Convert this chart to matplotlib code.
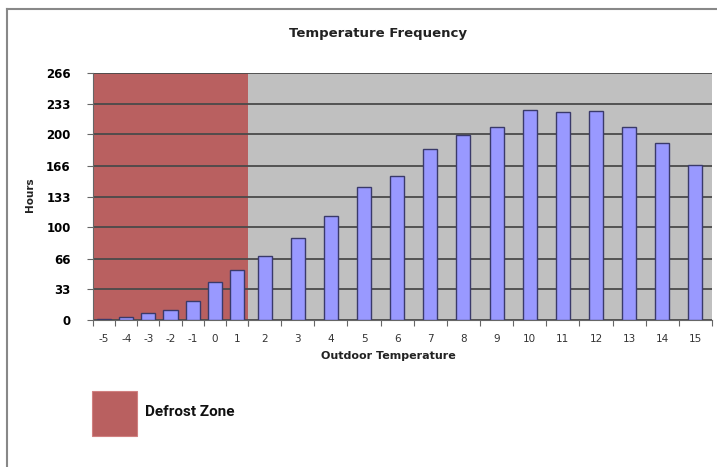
import matplotlib.pyplot as plt
from matplotlib.lines import Line2D
from matplotlib.patches import Rectangle

temps_cold = [-5, -4, -3, -2, -1, 0, 1]
hours_cold = [1, 3.5, 7.5, 10.5, 20.5, 41, 54]
temps_warm = [2, 3, 4, 5, 6, 7, 8, 9, 10, 11, 12, 13, 14, 15]
hours_warm = [69, 88, 112, 143, 155, 184, 199, 208, 226, 224, 225, 208, 191, 167]
y_ticks = [0, 33, 66, 100, 133, 166, 200, 233, 266]

W, H = 717, 467
fig = plt.figure(figsize=(W / 100, H / 100), dpi=100)


def fx(px):
    return px / W


def fy(py):
    return 1 - py / H


bottom, top = 320, 73
ax_c = fig.add_axes([fx(93), fy(bottom), fx(248) - fx(93), fy(top) - fy(bottom)])
ax_w = fig.add_axes([fx(248), fy(bottom), fx(712) - fx(248), fy(top) - fy(bottom)], sharey=ax_c)

for ax, temps, hours, bw, bg in [
    (ax_c, temps_cold, hours_cold, 0.64, "#B96060"),
    (ax_w, temps_warm, hours_warm, 0.42, "#C0C0C0"),
]:
    x = list(range(len(temps)))
    ax.set_facecolor(bg)
    ax.set_axisbelow(True)
    ax.grid(axis="y", color="#4a4a4a", lw=1.3)
    ax.bar(x, hours, width=bw, color="#9999FF", edgecolor="#3a3a6a", lw=1, zorder=3)
    ax.set_xlim(-0.5, len(temps) - 0.5)
    ax.set_xticks([i + 0.5 for i in range(-1, len(temps))], minor=False)
    ax.set_xticklabels([])
    ax.set_xticks(x, minor=True)
    ax.set_xticklabels([str(t) for t in temps], minor=True, fontsize=7.5, color="#333333")
    ax.tick_params(axis="x", which="major", length=4, color="#666666", direction="out")
    ax.tick_params(axis="x", which="minor", length=0, pad=10)
    for s in ["top", "right"]:
        ax.spines[s].set_visible(False)
    ax.spines["bottom"].set_color("#666666")
    ax.spines["left"].set_visible(False)

ax_c.set_ylim(0, 266)
ax_c.set_yticks(y_ticks)
ax_c.set_yticklabels([str(v) for v in y_ticks], fontsize=8.5, fontweight="bold")
ax_c.tick_params(axis="y", length=4, color="#666666", pad=12)
ax_c.spines["left"].set_visible(True)
ax_c.spines["left"].set_color("#666666")
ax_w.tick_params(axis="y", left=False, labelleft=False)

fig.text(fx(378), fy(33), "Temperature Frequency", ha="center", va="center",
         fontsize=9.5, fontweight="bold", color="#222222")
fig.text(fx(30), fy(195), "Hours", ha="center", va="center", rotation=90,
         fontsize=7.5, fontweight="bold", color="#222222")
fig.text(fx(388), fy(356), "Outdoor Temperature", ha="center", va="center",
         fontsize=8, fontweight="bold", color="#222222")

# legend for the red zone
fig.patches.append(Rectangle((fx(92), fy(436)), fx(137) - fx(92), fy(391) - fy(436),
                             transform=fig.transFigure, facecolor="#B96060",
                             edgecolor="#d08080", lw=0.8))
fig.text(fx(145), fy(412), "Defrost Zone", ha="left", va="center",
         fontsize=11, fontweight="bold", family=["Roboto", "DejaVu Sans"],
         color="#111111")

# frame of the original screenshot
fig.lines.append(Line2D([fx(7), fx(7)], [0, fy(9)], transform=fig.transFigure,
                        color="#888888", lw=1.5))
fig.lines.append(Line2D([fx(7), 1], [fy(9), fy(9)], transform=fig.transFigure,
                        color="#888888", lw=1.5))

fig.savefig("out.png", dpi=100)
